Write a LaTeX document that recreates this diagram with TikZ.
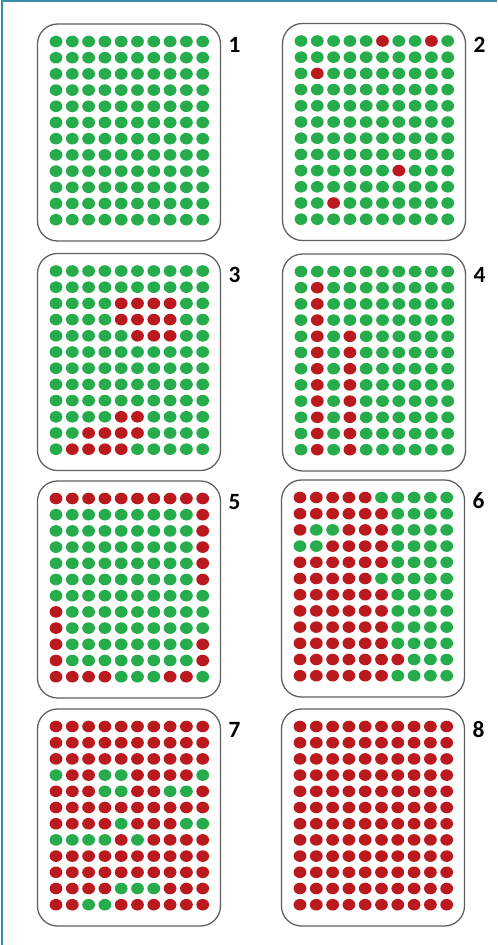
\documentclass[tikz,border=0pt]{standalone}
\usepackage{fontspec}
\setmainfont{Carlito}
\definecolor{G}{RGB}{38,172,74}
\definecolor{R}{RGB}{186,26,30}
\definecolor{framecol}{RGB}{58,140,165}
\definecolor{boxcol}{RGB}{95,95,95}
\tikzset{
  boxline/.style={draw=boxcol,line width=0.95pt,rounded corners=15pt},
  lbl/.style={inner sep=0pt,font=\fontsize{17.5}{17.5}\selectfont\bfseries,text=black},
  outerframe/.style={draw=framecol,line width=1.5pt}
}
\newcommand{\dotpanel}[4]{%
  \draw[boxline] (#1,#2) rectangle ++(183,217);
  \node[lbl] (lab#3) at (#1+197,#2+21) {#3};
  \foreach \row [count=\i] in {#4} {
    \foreach \c [count=\j] in \row {
      \fill[\c] (#1+18.5+16.3*\j-16.3,#2+17.5+16.2*\i-16.2) ellipse [x radius=4.8pt, y radius=4.35pt];
    }
  }
}
\begin{document}
\begin{tikzpicture}[x=0.75pt,y=-0.75pt]
\useasboundingbox (0,0) rectangle (497,945);
\fill[white] (0,0) rectangle (497,945);
\coordinate (fa) at (2,945);
\coordinate (fb) at (2,1.5);
\coordinate (fc) at (497,1.5);
\draw[outerframe] (fa) -- (fb) -- (fc);
% panel 1
\dotpanel{37.5}{24}{1}{
{G,G,G,G,G,G,G,G,G,G},{G,G,G,G,G,G,G,G,G,G},{G,G,G,G,G,G,G,G,G,G},{G,G,G,G,G,G,G,G,G,G},
{G,G,G,G,G,G,G,G,G,G},{G,G,G,G,G,G,G,G,G,G},{G,G,G,G,G,G,G,G,G,G},{G,G,G,G,G,G,G,G,G,G},
{G,G,G,G,G,G,G,G,G,G},{G,G,G,G,G,G,G,G,G,G},{G,G,G,G,G,G,G,G,G,G},{G,G,G,G,G,G,G,G,G,G}}
% panel 2
\dotpanel{282.5}{23.5}{2}{
{G,G,G,G,G,R,G,G,R,G},{G,G,G,G,G,G,G,G,G,G},{G,R,G,G,G,G,G,G,G,G},{G,G,G,G,G,G,G,G,G,G},
{G,G,G,G,G,G,G,G,G,G},{G,G,G,G,G,G,G,G,G,G},{G,G,G,G,G,G,G,G,G,G},{G,G,G,G,G,G,G,G,G,G},
{G,G,G,G,G,G,R,G,G,G},{G,G,G,G,G,G,G,G,G,G},{G,G,R,G,G,G,G,G,G,G},{G,G,G,G,G,G,G,G,G,G}}
% panel 3
\dotpanel{37.5}{253.5}{3}{
{G,G,G,G,G,G,G,G,G,G},{G,G,G,G,G,G,G,G,G,G},{G,G,G,G,R,R,R,R,G,G},{G,G,G,G,R,R,R,R,G,G},
{G,G,G,G,G,R,R,R,G,G},{G,G,G,G,G,G,G,G,G,G},{G,G,G,G,G,G,G,G,G,G},{G,G,G,G,G,G,G,G,G,G},
{G,G,G,G,G,G,G,G,G,G},{G,G,G,G,R,R,G,G,G,G},{G,G,R,R,R,R,G,G,G,G},{G,R,R,R,R,G,G,G,G,G}}
% panel 4
\dotpanel{282.5}{254}{4}{
{G,G,G,G,G,G,G,G,G,G},{G,R,G,G,G,G,G,G,G,G},{G,R,G,G,G,G,G,G,G,G},{G,R,G,G,G,G,G,G,G,G},
{G,R,G,R,G,G,G,G,G,G},{G,R,G,R,G,G,G,G,G,G},{G,R,G,R,G,G,G,G,G,G},{G,R,G,R,G,G,G,G,G,G},
{G,R,G,R,G,G,G,G,G,G},{G,R,G,R,G,G,G,G,G,G},{G,R,G,R,G,G,G,G,G,G},{G,R,G,R,G,G,G,G,G,G}}
% panel 5
\dotpanel{37.5}{481}{5}{
{R,R,R,R,R,R,R,R,R,R},{G,G,G,G,G,G,G,G,G,R},{G,G,G,G,G,G,G,G,G,R},{G,G,G,G,G,G,G,G,G,R},
{G,G,G,G,G,G,G,G,G,R},{G,G,G,G,G,G,G,G,G,R},{G,G,G,G,G,G,G,G,G,G},{R,G,G,G,G,G,G,G,G,G},
{R,G,G,G,G,G,G,G,G,G},{R,G,G,G,G,G,G,G,G,R},{R,G,G,G,G,G,G,G,G,R},{R,R,R,R,G,G,G,R,R,G}}
% panel 6
\dotpanel{281.5}{480}{6}{
{R,R,R,R,R,G,G,G,G,G},{R,R,R,R,R,R,G,G,G,G},{R,G,G,R,R,R,G,G,G,G},{G,G,R,R,R,R,G,G,G,G},
{R,R,R,R,R,R,G,G,G,G},{R,R,R,R,R,G,G,G,G,G},{R,R,R,R,R,R,G,G,G,G},{R,R,R,R,R,R,G,G,G,G},
{R,R,R,R,R,R,G,G,G,G},{R,R,R,R,R,R,G,G,G,G},{R,R,R,R,R,R,R,G,G,G},{R,R,R,R,R,R,G,G,G,G}}
% panel 7
\dotpanel{37.5}{709}{7}{
{R,R,R,R,R,R,R,R,R,R},{R,R,R,R,R,R,R,R,R,R},{R,R,R,R,R,R,R,R,R,R},{G,R,R,G,G,R,R,R,R,G},
{R,R,R,G,G,R,R,G,G,R},{R,R,R,R,R,R,R,R,R,R},{R,R,R,R,G,R,R,R,G,G},{G,G,G,G,R,G,R,R,R,R},
{R,R,R,R,R,R,R,R,R,R},{R,R,R,R,R,R,R,R,R,R},{R,R,R,R,G,G,G,R,R,R},{R,R,G,G,R,R,R,R,R,R}}
% panel 8
\dotpanel{281.5}{709}{8}{
{R,R,R,R,R,R,R,R,R,R},{R,R,R,R,R,R,R,R,R,R},{R,R,R,R,R,R,R,R,R,R},{R,R,R,R,R,R,R,R,R,R},
{R,R,R,R,R,R,R,R,R,R},{R,R,R,R,R,R,R,R,R,R},{R,R,R,R,R,R,R,R,R,R},{R,R,R,R,R,R,R,R,R,R},
{R,R,R,R,R,R,R,R,R,R},{R,R,R,R,R,R,R,R,R,R},{R,R,R,R,R,R,R,R,R,R},{R,R,R,R,R,R,R,R,R,R}}
\end{tikzpicture}
\end{document}
